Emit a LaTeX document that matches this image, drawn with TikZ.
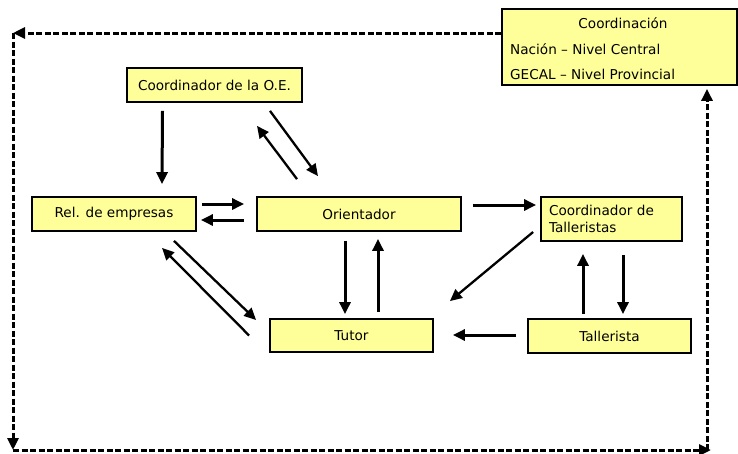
\documentclass[tikz,border=0pt]{standalone}
\usepackage{fontspec}
\setmainfont{DejaVu Sans}
\usetikzlibrary{positioning, arrows.meta}
\definecolor{boxyellow}{HTML}{FFFF99}

\tikzset{
  box/.style={draw, line width=1.8pt, fill=boxyellow, shape=rectangle, inner sep=0pt, align=center},
  lbl/.style={inner sep=0pt},
  flow/.style={->, line width=3pt},
  flowthin/.style={->, line width=2.3pt},
  loop/.style={->, line width=3pt, dash pattern=on 6pt off 2.5pt}
}

\begin{document}
\begin{tikzpicture}[x=1pt, y=-1pt, font=\fontsize{13.6}{16}\selectfont,
  >={Triangle[length=12pt, width=11pt]}]
  \useasboundingbox (0,0) rectangle (738,453);
  % boxes
  \node[box, minimum width=235pt, minimum height=76pt] (coord) at (619.5,47) {};
  \node[lbl] (coordt) at (623,23) {Coordinación};
  \node[lbl, anchor=west] (nacion) at (510,49) {Nación – Nivel Central};
  \node[lbl, anchor=west] (gecal) at (510,74) {GECAL – Nivel Provincial};
  \node[box, minimum width=175pt, minimum height=34pt] (oe) at (214.5,85) {Coordinador de la O.E.};
  \node[box, minimum width=164pt, minimum height=34pt] (rel) at (114,214) {Rel. de empresas};
  \node[box, minimum width=204pt, minimum height=34pt] (ori) at (359,214) {Orientador};
  \node[box, minimum width=141pt, minimum height=44pt, align=left, text width=125pt,
        font=\fontsize{13.6}{17}\selectfont] (ct) at (611.5,219) {Coordinador de\\Talleristas};
  \node[box, minimum width=163pt, minimum height=33pt] (tutor) at (351.5,335.5) {Tutor};
  \node[box, minimum width=163pt, minimum height=34pt] (tal) at (609.5,336) {Tallerista};
  \coordinate (tl) at (13,33);
  \coordinate (bl) at (13,450);
  \coordinate (br) at (711,450);

  % connectors
  \draw[flow] ([shift={(-52,8)}]oe.south) -- ([shift={(48,-12)}]rel.north);
  \draw[flowthin] ([shift={(-62,-17)}]ori.north) -- ([shift={(42.5,23)}]oe.south);
  \draw[flowthin] ([shift={(55.5,8)}]oe.south) -- ([shift={(-41,-20)}]ori.north);
  \draw[flow] ([shift={(5,-10)}]rel.east) -- ([shift={(-12,-10)}]ori.west);
  \draw[flow] ([shift={(-12,6)}]ori.west) -- ([shift={(4,6)}]rel.east);
  \draw[flow] ([shift={(11,-9)}]ori.east) -- ([shift={(-4,-14)}]ct.west);
  \draw[flowthin] ([shift={(-7,13)}]ct.west) -- ([shift={(16,-17)}]tutor.north east);
  \draw[flow] ([shift={(-26.5,-4)}]tal.north) -- ([shift={(-28.5,12)}]ct.south);
  \draw[flow] ([shift={(11.5,13)}]ct.south) -- ([shift={(13.5,-4)}]tal.north);
  \draw[flow] ([shift={(-11,-1)}]tal.west) -- ([shift={(19,-0.5)}]tutor.east);
  \draw[flow] ([shift={(-14,9)}]ori.south) -- ([shift={(-6.5,-4)}]tutor.north);
  \draw[flow] ([shift={(26.5,-6)}]tutor.north) -- ([shift={(19,7)}]ori.south);
  \draw[flowthin] ([shift={(60,9)}]rel.south) -- ([shift={(-13,-15.5)}]tutor.west);
  \draw[flowthin] ([shift={(-20,0)}]tutor.west) -- ([shift={(48,16)}]rel.south);

  % dashed loop
  \draw[loop] (coord.west |- tl) -- (tl);
  \draw[loop] (tl) -- (bl);
  \draw[loop] (bl) -- (br);
  \draw[loop] ([xshift=-4pt]br) -- ([shift={(87.5,3)}]coord.south);
\end{tikzpicture}
\end{document}
